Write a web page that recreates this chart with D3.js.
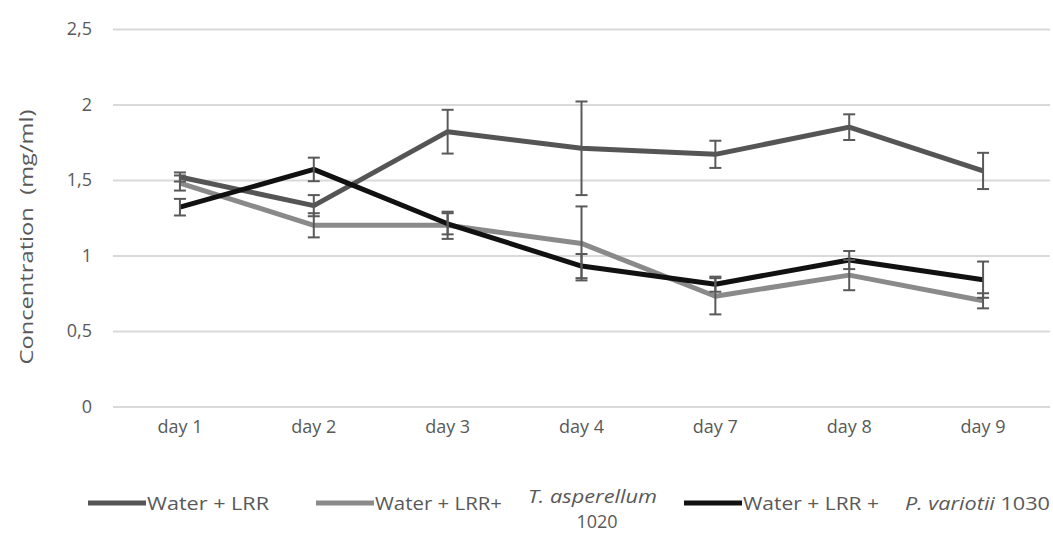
<!DOCTYPE html>
<html>
<head>
<meta charset="utf-8">
<script src="https://cdn.jsdelivr.net/npm/d3@7"></script>
<style>
  body { margin: 0; background: #fff; }
  text { font-family: "Open Sans", sans-serif; fill: #595959; }
</style>
</head>
<body>
<div id="chart"></div>
<script>
// chart data
var days = ["day 1", "day 2", "day 3", "day 4", "day 7", "day 8", "day 9"];
var yTicks = [0, 0.5, 1, 1.5, 2, 2.5];

var lrrMean = [1.52, 1.33, 1.82, 1.71, 1.67, 1.85, 1.56];
var lrrErr  = [0.03, 0.07, 0.145, 0.31, 0.09, 0.085, 0.12];

var asperMean = [1.48, 1.20, 1.20, 1.08, 0.73, 0.87, 0.70];
var asperErr  = [0.05, 0.08, 0.09, 0.245, 0.12, 0.10, 0.05];

var variMean = [1.32, 1.57, 1.21, 0.93, 0.81, 0.97, 0.84];
var variErr  = [0.055, 0.078, 0.07, 0.08, 0.05, 0.06, 0.12];

var series = [
  { name: "lrr", mean: lrrMean, err: lrrErr, color: "#555555" },
  { name: "asper", mean: asperMean, err: asperErr, color: "#8a8a8a" },
  { name: "vari", mean: variMean, err: variErr, color: "#111111" }
];

var W = 1053, H = 535;
var margin = { top: 29, right: 3, bottom: 128.5, left: 113 };
var width = W - margin.left - margin.right;
var height = H - margin.top - margin.bottom;

var svg = d3.select("#chart")
  .append("svg")
  .attr("width", W)
  .attr("height", H);

var g = svg.append("g")
  .attr("transform", "translate(" + margin.left + "," + margin.top + ")");

var x = d3.scaleBand()
  .domain(days)
  .range([0, width]);

var y = d3.scaleLinear()
  .domain([0, 2.5])
  .range([height, 0]);

// gridlines
g.append("g")
  .attr("class", "grid")
  .call(d3.axisLeft(y).tickValues(yTicks).tickSize(-width).tickFormat(""))
  .call(function(s) { s.select(".domain").remove(); })
  .selectAll("line")
  .attr("stroke", "#d9d9d9")
  .attr("stroke-width", 2);

// y axis labels
var yAxis = g.append("g")
  .call(d3.axisLeft(y).tickValues(yTicks).tickSize(0).tickPadding(21)
    .tickFormat(function(d) { return String(d).replace(".", ","); }));
yAxis.select(".domain").remove();
yAxis.selectAll("text")
  .style("font-family", "Open Sans")
  .style("font-size", "18px")
  .style("fill", "#595959");

// x axis labels
var xAxis = g.append("g")
  .attr("transform", "translate(0," + height + ")")
  .call(d3.axisBottom(x).tickSize(0).tickPadding(14));
xAxis.select(".domain").remove();
xAxis.selectAll("text")
  .style("font-family", "Open Sans")
  .style("font-size", "18px")
  .style("fill", "#595959");

// y axis title
svg.append("text")
  .attr("transform", "translate(26," + 237 + ") rotate(-90)")
  .attr("text-anchor", "middle")
  .attr("dy", "0.35em")
  .attr("textLength", 255)
  .attr("lengthAdjust", "spacingAndGlyphs")
  .style("font-size", "19px")
  .style("white-space", "pre")
  .text("Concentration  (mg/ml)");

var line = d3.line()
  .x(function(d, i) { return x(days[i]) + x.bandwidth() / 2; })
  .y(function(d) { return y(d); });

// lines
series.forEach(function(s) {
  g.append("path")
    .datum(s.mean)
    .attr("fill", "none")
    .attr("stroke", s.color)
    .attr("stroke-width", 5)
    .attr("stroke-linejoin", "round")
    .attr("d", line);
});

// error bars
series.forEach(function(s) {
  var eb = g.append("g").attr("class", "err-" + s.name);
  s.mean.forEach(function(m, i) {
    var cx = x(days[i]) + x.bandwidth() / 2;
    var e = s.err[i];
    eb.append("line")
      .attr("x1", cx).attr("x2", cx)
      .attr("y1", y(m + e)).attr("y2", y(m - e))
      .attr("stroke", "#595959").attr("stroke-width", 2);
    [m + e, m - e].forEach(function(v) {
      eb.append("line")
        .attr("x1", cx - 6).attr("x2", cx + 6)
        .attr("y1", y(v)).attr("y2", y(v))
        .attr("stroke", "#595959").attr("stroke-width", 2);
    });
  });
});

// legend
var legend = svg.append("g").attr("transform", "translate(0,503)");
var items = [
  { color: "#555555", x: 88, label: "Water + LRR", len: 122 },
  { color: "#8a8a8a", x: 316, label: "Water + LRR+", len: 127 },
  { color: "#111111", x: 684, label: "Water + LRR +", len: 136 }
];
items.forEach(function(it) {
  legend.append("line")
    .attr("x1", it.x).attr("x2", it.x + 58)
    .attr("y1", 0).attr("y2", 0)
    .attr("stroke", it.color).attr("stroke-width", 5);
  legend.append("text")
    .attr("x", it.x + 59).attr("y", 0).attr("dy", "0.35em")
    .attr("textLength", it.len)
    .attr("lengthAdjust", "spacingAndGlyphs")
    .style("font-size", "19px")
    .text(it.label);
});

legend.append("text")
  .attr("x", 528).attr("y", -7).attr("dy", "0.35em")
  .attr("textLength", 129)
  .attr("lengthAdjust", "spacingAndGlyphs")
  .style("font-size", "19px")
  .style("font-style", "italic")
  .text("T. asperellum");
legend.append("text")
  .attr("x", 597).attr("y", 19).attr("dy", "0.35em")
  .attr("text-anchor", "middle")
  .style("font-size", "18px")
  .text("1020");

var pv = legend.append("text")
  .attr("x", 905).attr("y", 0).attr("dy", "0.35em")
  .attr("textLength", 145)
  .attr("lengthAdjust", "spacingAndGlyphs")
  .style("font-size", "19px");
pv.append("tspan").style("font-style", "italic").text("P. variotii");
pv.append("tspan").text(" 1030");
</script>
</body>
</html>
